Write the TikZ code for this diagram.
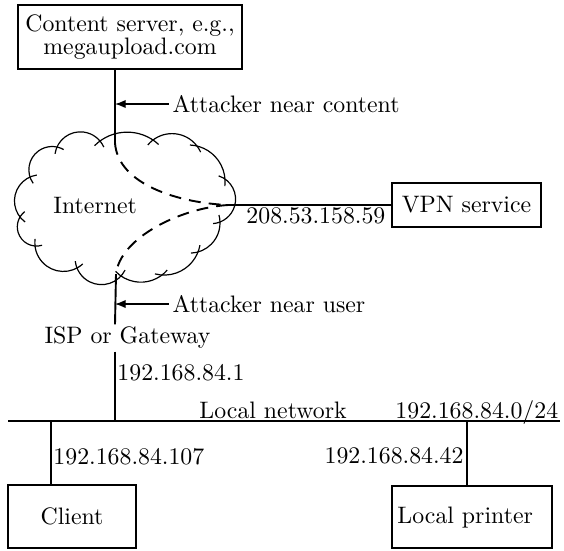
\documentclass[tikz,border=0pt]{standalone}
\usetikzlibrary{arrows.meta,calc}
\tikzset{
  box/.style={draw, line width=0.5pt, inner sep=0pt, align=center},
  conn/.style={line width=0.8pt},
  dconn/.style={line width=0.8pt, dash pattern=on 5pt off 3.4pt},
  attack/.style={line width=0.5pt, -{Latex[length=4.5pt,width=3.5pt]}},
  lbl/.style={inner sep=0pt},
  cloudline/.style={line width=0.5pt},
}
% one puff of the cloud: from #1 to #2 (clockwise), half-angle #3, overshooting both ends
\newcommand\cloudpuff[3]{%
  \draw[cloudline] let \p1=(#1), \p2=(#2),
    \n1={atan2(\y2-\y1,\x2-\x1)},
    \n2={veclen(\x2-\x1,\y2-\y1)/(2*sin(#3))},
    \n3={3/\n2*57.2958} in
    (#1) ++({\n1+90+#3+180}:\n2) ++({\n1+90+#3+\n3}:\n2)
    arc[start angle={\n1+90+#3+\n3}, end angle={\n1+90-#3-\n3}, radius=\n2];}
\begin{document}
\begin{tikzpicture}[x=0.42pt,y=-0.42pt]
\useasboundingbox (0,0) rectangle (564,550);

% cloud
\coordinate (c1) at (30,177);
\coordinate (c2) at (57,147);
\coordinate (c3) at (100,141);
\coordinate (c4) at (153,140);
\coordinate (c5) at (197,146);
\coordinate (c6) at (225,179);
\coordinate (c7) at (220,222);
\coordinate (c8) at (198,252);
\coordinate (c9) at (162,275);
\coordinate (c10) at (121,276);
\coordinate (c11) at (77,268);
\coordinate (c12) at (35,246);
\coordinate (c13) at (20,217);
\cloudpuff{c1}{c2}{60}
\cloudpuff{c2}{c3}{58}
\cloudpuff{c3}{c4}{35}
\cloudpuff{c4}{c5}{45}
\cloudpuff{c5}{c6}{36}
\cloudpuff{c6}{c7}{62}
\cloudpuff{c7}{c8}{38}
\cloudpuff{c8}{c9}{36}
\cloudpuff{c9}{c10}{36}
\cloudpuff{c10}{c11}{58}
\cloudpuff{c11}{c12}{56}
\cloudpuff{c12}{c13}{58}
\cloudpuff{c13}{c1}{52}
\node[lbl, anchor=base west] (inet) at (53,213) {Internet};

% boxes
\node[box, minimum width=94.1pt, minimum height=26.9pt] (cs) at (130,37)
  {Content server, e.g.,\\[-2pt]megaupload.com};
\node[box, minimum width=62.6pt, minimum height=18.5pt] (vpn) at (466.5,205) {VPN service};
\node[box, minimum width=53.8pt, minimum height=26.5pt] (client) at (72,516.5) {Client};
\node[box, minimum width=67.2pt, minimum height=26pt] (printer) at (472,517) {};
\node[lbl, anchor=base west] (printerlbl) at (397,523) {Local printer};

% internet paths
\coordinate (ctop) at (115,143);
\coordinate (vj) at (228,205);
\coordinate (cbot) at (116,274);
\draw[conn] (ctop |- cs.south) -- (ctop);
\draw[dconn] (ctop) .. controls (118,185) and (180,203) .. (vj);
\draw[dconn] (vj) .. controls (180,208) and (120,238) .. (cbot);
\draw[conn] (vj) -- (vpn.west);
\node[lbl, anchor=base west] (vpnip) at (246,223) {208.53.158.59};

% attackers
\node[anchor=west, inner xsep=1.5pt, inner ysep=0pt] (acontent) at (168.5,104) {Attacker near content};
\node[anchor=west, inner xsep=1.5pt, inner ysep=0pt] (auser) at (168.5,304) {Attacker near user};
\draw[attack] (acontent.west) -- (acontent.west -| ctop);
\draw[attack] (auser.west) -- (auser.west -| ctop);

% gateway
\node[inner xsep=0pt, inner ysep=1pt] (isp) at (127.5,338) {ISP or Gateway};
\coordinate (netL) at (8,421);
\coordinate (netR) at (560,421);
\coordinate (gj) at (115,421);
\draw[conn] (cbot) -- (isp.north -| gj);
\draw[conn] (isp.south -| gj) -- (gj);
\node[lbl, anchor=base west] (gwip) at (117,380) {192.168.84.1};

% local network
\draw[conn] (netL) -- (netR);
\node[lbl, anchor=base west] (lnet) at (199,418) {Local network};
\node[lbl, anchor=base west] (lnetip) at (395,418) {192.168.84.0/24};
\coordinate (cj) at (51,421);
\coordinate (pj) at (467,421);
\draw[conn] (cj) -- (cj |- client.north);
\draw[conn] (pj) -- (pj |- printer.north);
\node[lbl, anchor=base west] (clientip) at (53,464) {192.168.84.107};
\node[lbl, anchor=base east] (printerip) at (464,463) {192.168.84.42};
\end{tikzpicture}
\end{document}
